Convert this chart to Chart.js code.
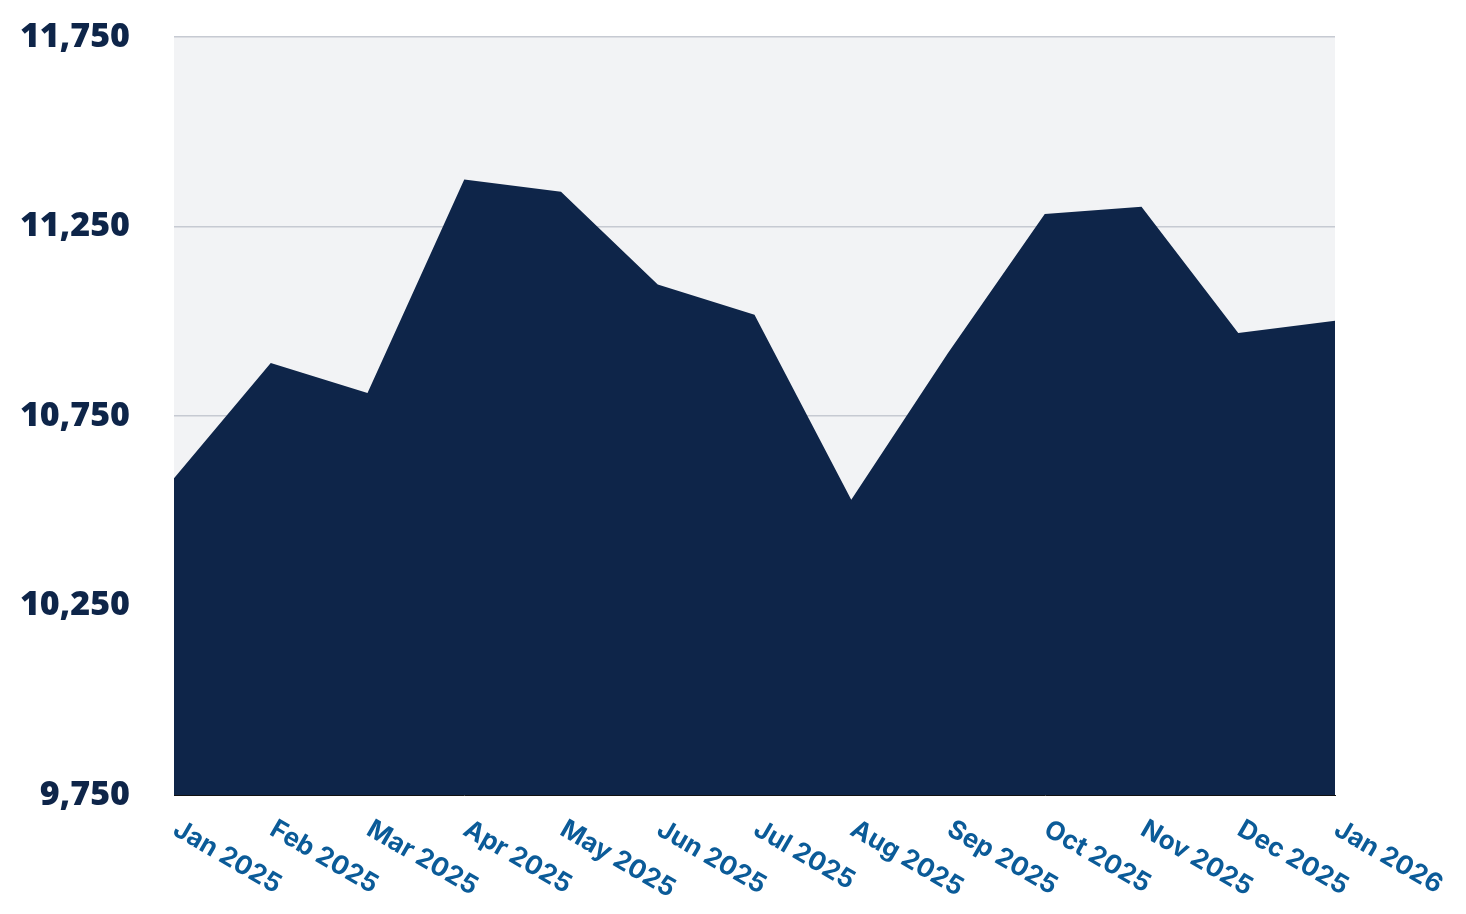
<!DOCTYPE html>
<html>
<head>
<meta charset="utf-8">
<script src="https://cdn.jsdelivr.net/npm/chart.js@4.4.1/dist/chart.umd.min.js"></script>
<style>
    html, body { margin: 0; padding: 0; background: #ffffff; }
    #wrap { width: 1466px; height: 914px; position: relative; }
</style>
</head>
<body>
<div id="wrap"><canvas id="myChart" width="1466" height="914"></canvas></div>
<script>
const months = ['Jan 2025', 'Feb 2025', 'Mar 2025', 'Apr 2025', 'May 2025', 'Jun 2025', 'Jul 2025',
    'Aug 2025', 'Sep 2025', 'Oct 2025', 'Nov 2025', 'Dec 2025', 'Jan 2026'];
const values = [10586, 10890, 10811, 11374, 11342, 11097, 11017, 10529, 10916, 11283, 11302, 10969, 11001];
const yTicks = [9750, 10250, 10750, 11250, 11750];

const navy = '#0e2549';
const labelBlue = '#0b5b98';

// grey panel behind the plot
const plotBg = {
    id: 'plotBg',
    beforeDraw(chart) {
        const a = chart.chartArea;
        const c = chart.ctx;
        c.save();
        c.fillStyle = '#f2f3f5';
        c.fillRect(a.left, a.top, a.right - a.left, a.bottom - a.top);
        c.restore();
    }
};

// month labels rotated clockwise, starting at each tick
const slantedLabels = {
    id: 'slantedLabels',
    afterDraw(chart) {
        const x = chart.scales.x;
        const c = chart.ctx;
        c.save();
        c.fillStyle = labelBlue;
        c.font = '700 26px Inter, "Open Sans", sans-serif';
        c.textAlign = 'left';
        c.textBaseline = 'top';
        months.forEach((m, i) => {
            c.save();
            c.translate(x.getPixelForValue(i) + 8, chart.chartArea.bottom + 21);
            c.rotate(30 * Math.PI / 180);
            c.fillText(m, 0, 0);
            c.restore();
        });
        c.restore();
    }
};

const ctx = document.getElementById('myChart').getContext('2d');
const myChart = new Chart(ctx, {
    type: 'line',
    data: {
        labels: months,
        datasets: [{
            data: values,
            fill: 'start',
            backgroundColor: navy,
            borderColor: navy,
            borderWidth: 0,
            pointRadius: 0,
            tension: 0
        }]
    },
    options: {
        responsive: false,
        animation: false,
        layout: { padding: { top: 37, left: 0, right: 131, bottom: 119 } },
        plugins: {
            legend: { display: false },
            tooltip: { enabled: false }
        },
        scales: {
            x: {
                offset: false,
                afterFit: s => { s.height = 0; },
                grid: { display: false },
                border: { display: true, color: '#111111', width: 1 },
                ticks: { display: false }
            },
            y: {
                min: yTicks[0],
                max: yTicks[yTicks.length - 1],
                afterFit: s => {
                    s.width = 174;
                    s.paddingTop = 0;
                    s.paddingBottom = 0;
                },
                afterBuildTicks: s => { s.ticks = yTicks.map(v => ({ value: v })); },
                grid: { color: '#c6cad2', lineWidth: 1.5, drawTicks: false },
                border: { display: false },
                ticks: {
                    padding: 44,
                    color: navy,
                    font: { family: '"Open Sans", sans-serif', size: 34, weight: '800' },
                    callback: v => v.toLocaleString('en-US')
                }
            }
        }
    },
    plugins: [plotBg, slantedLabels]
});
</script>
</body>
</html>
